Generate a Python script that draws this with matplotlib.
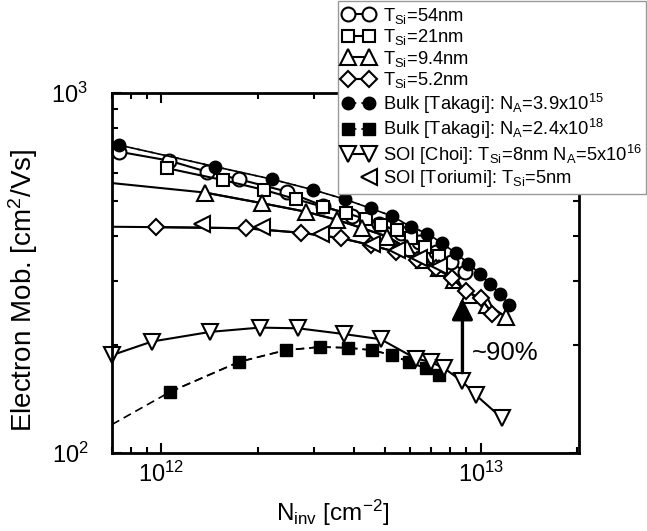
import numpy as np
import matplotlib
matplotlib.use("Agg")
import matplotlib.pyplot as plt
from matplotlib.ticker import LogLocator, NullFormatter
from matplotlib.legend_handler import HandlerLine2D

plt.rcParams['font.family'] = ['Liberation Sans', 'DejaVu Sans']
plt.rcParams['mathtext.fontset'] = 'custom'
plt.rcParams['mathtext.rm'] = 'Liberation Sans'
plt.rcParams['mathtext.it'] = 'Liberation Sans:italic'
plt.rcParams['mathtext.bf'] = 'Liberation Sans:bold'

# electron mobility vs inversion charge density
n_54 = [7.35e11, 1.054e12, 1.39e12, 1.747e12, 2.475e12, 3.2e12, 3.96e12, 4.8e12, 5.63e12, 6.41e12, 7.24e12, 8.07e12, 8.93e12]
mu_54 = [687, 649, 604, 576, 532, 486, 455, 433, 409, 386, 362, 339, 318]

n_21 = [1.041e12, 1.557e12, 2.093e12, 2.64e12, 3.2e12, 3.77e12, 4.36e12, 4.86e12, 5.48e12, 6.05e12, 6.69e12, 7.40e12]
mu_21 = [618, 573, 538, 507, 483, 465, 446, 430, 415, 396, 374, 353]

n_94 = [1.367e12, 2.068e12, 2.83e12, 3.55e12, 4.26e12, 5.10e12, 5.89e12, 6.64e12, 7.40e12, 8.25e12, 9.19e12, 1.047e13, 1.198e13]
mu_94 = [529, 494, 468, 444, 421, 399, 370, 344, 327, 302, 275, 258, 239]

n_52 = [9.62e11, 1.834e12, 2.73e12, 3.66e12, 4.52e12, 5.41e12, 6.33e12, 7.23e12, 8.15e12, 8.97e12, 1.0e13, 1.087e13]
mu_52 = [424, 421, 409, 395, 378, 362, 344, 326, 306, 281, 269, 244]

n_bulk15 = [7.35e11, 1.476e12, 2.22e12, 2.99e12, 3.75e12, 4.52e12, 5.28e12, 6.03e12, 6.80e12, 7.58e12, 8.35e12, 9.15e12, 9.93e12, 1.07e13, 1.147e13, 1.227e13]
mu_bulk15 = [717, 624, 576, 538, 507, 478, 455, 425, 407, 382, 359, 336, 314, 295, 277, 258]

n_bulk18 = [1.067e12, 1.747e12, 2.446e12, 3.134e12, 3.846e12, 4.57e12, 5.28e12, 5.96e12, 6.72e12, 7.40e12]
mu_bulk18 = [148, 179, 193, 197, 196, 193, 187, 179, 172, 165]

n_choi = [7.0e11, 9.34e11, 1.424e12, 2.033e12, 2.68e12, 3.73e12, 4.86e12, 6.25e12, 6.97e12, 7.67e12, 8.76e12, 9.64e12, 1.164e13]
mu_choi = [187, 204, 217, 223, 222, 214, 207, 183, 179, 172, 158, 145, 125]

n_tor = [1.341e12, 2.068e12, 3.15e12, 4.57e12, 5.48e12, 6.41e12, 7.40e12]
mu_tor = [432, 424, 405, 381, 366, 347, 331]

# where the fitted curves meet the left axis (N = 7e11)
n_edge = 7.0e11
mu_edge_94 = 562
mu_edge_52 = 425
mu_edge_bulk15 = 731
mu_edge_bulk18 = 120

labels = [
    r'T$_{\mathregular{Si}}$=54nm',
    r'T$_{\mathregular{Si}}$=21nm',
    r'T$_{\mathregular{Si}}$=9.4nm',
    r'T$_{\mathregular{Si}}$=5.2nm',
    r'Bulk [Takagi]: N$_{\mathregular{A}}$=3.9x10$^{\mathregular{15}}$',
    r'Bulk [Takagi]: N$_{\mathregular{A}}$=2.4x10$^{\mathregular{18}}$',
    r'SOI [Choi]: T$_{\mathregular{Si}}$=8nm N$_{\mathregular{A}}$=5x10$^{\mathregular{16}}$',
    r'SOI [Toriumi]: T$_{\mathregular{Si}}$=5nm',
]


class HandlerRightPoint(HandlerLine2D):
    # single marker drawn at the right end of the handle
    def get_xdata(self, legend, xdescent, ydescent, width, height, fontsize):
        x = -xdescent + width - self._marker_pad * fontsize
        return [x], [x]


fig = plt.figure(figsize=(6.47, 5.31), dpi=100)
ax = fig.add_axes([0.1731, 0.1469, 0.7218, 0.6780])

lw = 1.5
mew = 1.5
open_kw = dict(color='k', mfc='white', mec='k', mew=mew, lw=lw)

h54, = ax.plot(n_54, mu_54, 'o-', ms=10, **open_kw)
h21, = ax.plot(n_21, mu_21, 's-', ms=9, **open_kw)
ax.plot([n_edge] + n_94, [mu_edge_94] + mu_94, '-', color='k', lw=lw)
h94, = ax.plot(n_94, mu_94, '^-', ms=12, **open_kw)
ax.plot([n_edge] + n_52, [mu_edge_52] + mu_52, '-', color='k', lw=lw)
h52, = ax.plot(n_52, mu_52, 'D-', ms=8.5, **open_kw)
htor, = ax.plot(n_tor, mu_tor, '<', ms=11, color='k', mfc='white', mec='k', mew=mew, ls='none')
ax.plot([n_edge] + n_bulk15, [mu_edge_bulk15] + mu_bulk15, '--', color='k', lw=1.2, dashes=(5, 3))
hb15, = ax.plot(n_bulk15, mu_bulk15, 'o--', ms=9, color='k', lw=1.2, dashes=(5, 3))
ax.plot([n_edge] + n_bulk18, [mu_edge_bulk18] + mu_bulk18, '--', color='k', lw=1.2, dashes=(5, 3))
hb18, = ax.plot(n_bulk18, mu_bulk18, 's--', ms=8.5, color='k', lw=1.2, dashes=(5, 3))
hchoi, = ax.plot(n_choi, mu_choi, 'v-', ms=12, **open_kw)

for h in (h54, h21, h94, h52, htor, hchoi, hb15, hb18):
    h.set_clip_on(False)

ax.set_xscale('log')
ax.set_yscale('log')
ax.set_xlim(7e11, 2.03e13)
ax.set_ylim(100, 1000)

ax.xaxis.set_minor_locator(LogLocator(base=10, subs=np.arange(2, 10)))
ax.yaxis.set_minor_locator(LogLocator(base=10, subs=np.arange(2, 10)))
ax.xaxis.set_minor_formatter(NullFormatter())
ax.yaxis.set_minor_formatter(NullFormatter())

ax.tick_params(which='both', direction='in', top=True, right=True, width=1.5, labelsize=17)
ax.tick_params(which='major', length=7)
ax.tick_params(which='minor', length=4.5)
ax.tick_params(axis='x', pad=6)
ax.tick_params(axis='y', pad=17)
for s in ax.spines.values():
    s.set_linewidth(2)

ax.set_xlabel(r'N$_{\mathregular{inv}}$ [cm$^{\mathregular{-2}}$]', fontsize=17.5)
ax.xaxis.set_label_coords(0.473, -0.125)
ax.set_ylabel(r'Electron Mob. [cm$^{\mathregular{2}}$/Vs]', fontsize=20)
ax.yaxis.set_label_coords(-0.155, 0.453)

# mobility ratio arrow
ax.annotate('', xy=(8.76e12, 269), xytext=(8.76e12, 167),
            arrowprops=dict(arrowstyle='-|>,head_length=0.8,head_width=0.4',
                            mutation_scale=16, lw=2.4, color='k',
                            shrinkA=0, shrinkB=0))
ax.text(9.39e12, 189.6, '~90%', fontsize=18.5, ha='left', va='center')

handles = [h54, h21, h94, h52, hb15, hb18, hchoi, htor]
leg = ax.legend(handles, labels, loc='upper right',
                bbox_to_anchor=(646 / 647, 530 / 531), bbox_transform=fig.transFigure,
                borderaxespad=0, fontsize=13.2, numpoints=2, handlelength=1.72,
                handletextpad=0.44, borderpad=0.25, labelspacing=0.08,
                fancybox=False, framealpha=1, edgecolor='#999999',
                handler_map={htor: HandlerRightPoint()})
leg.get_frame().set_linewidth(1)

fig.savefig('out.png', dpi=100)
